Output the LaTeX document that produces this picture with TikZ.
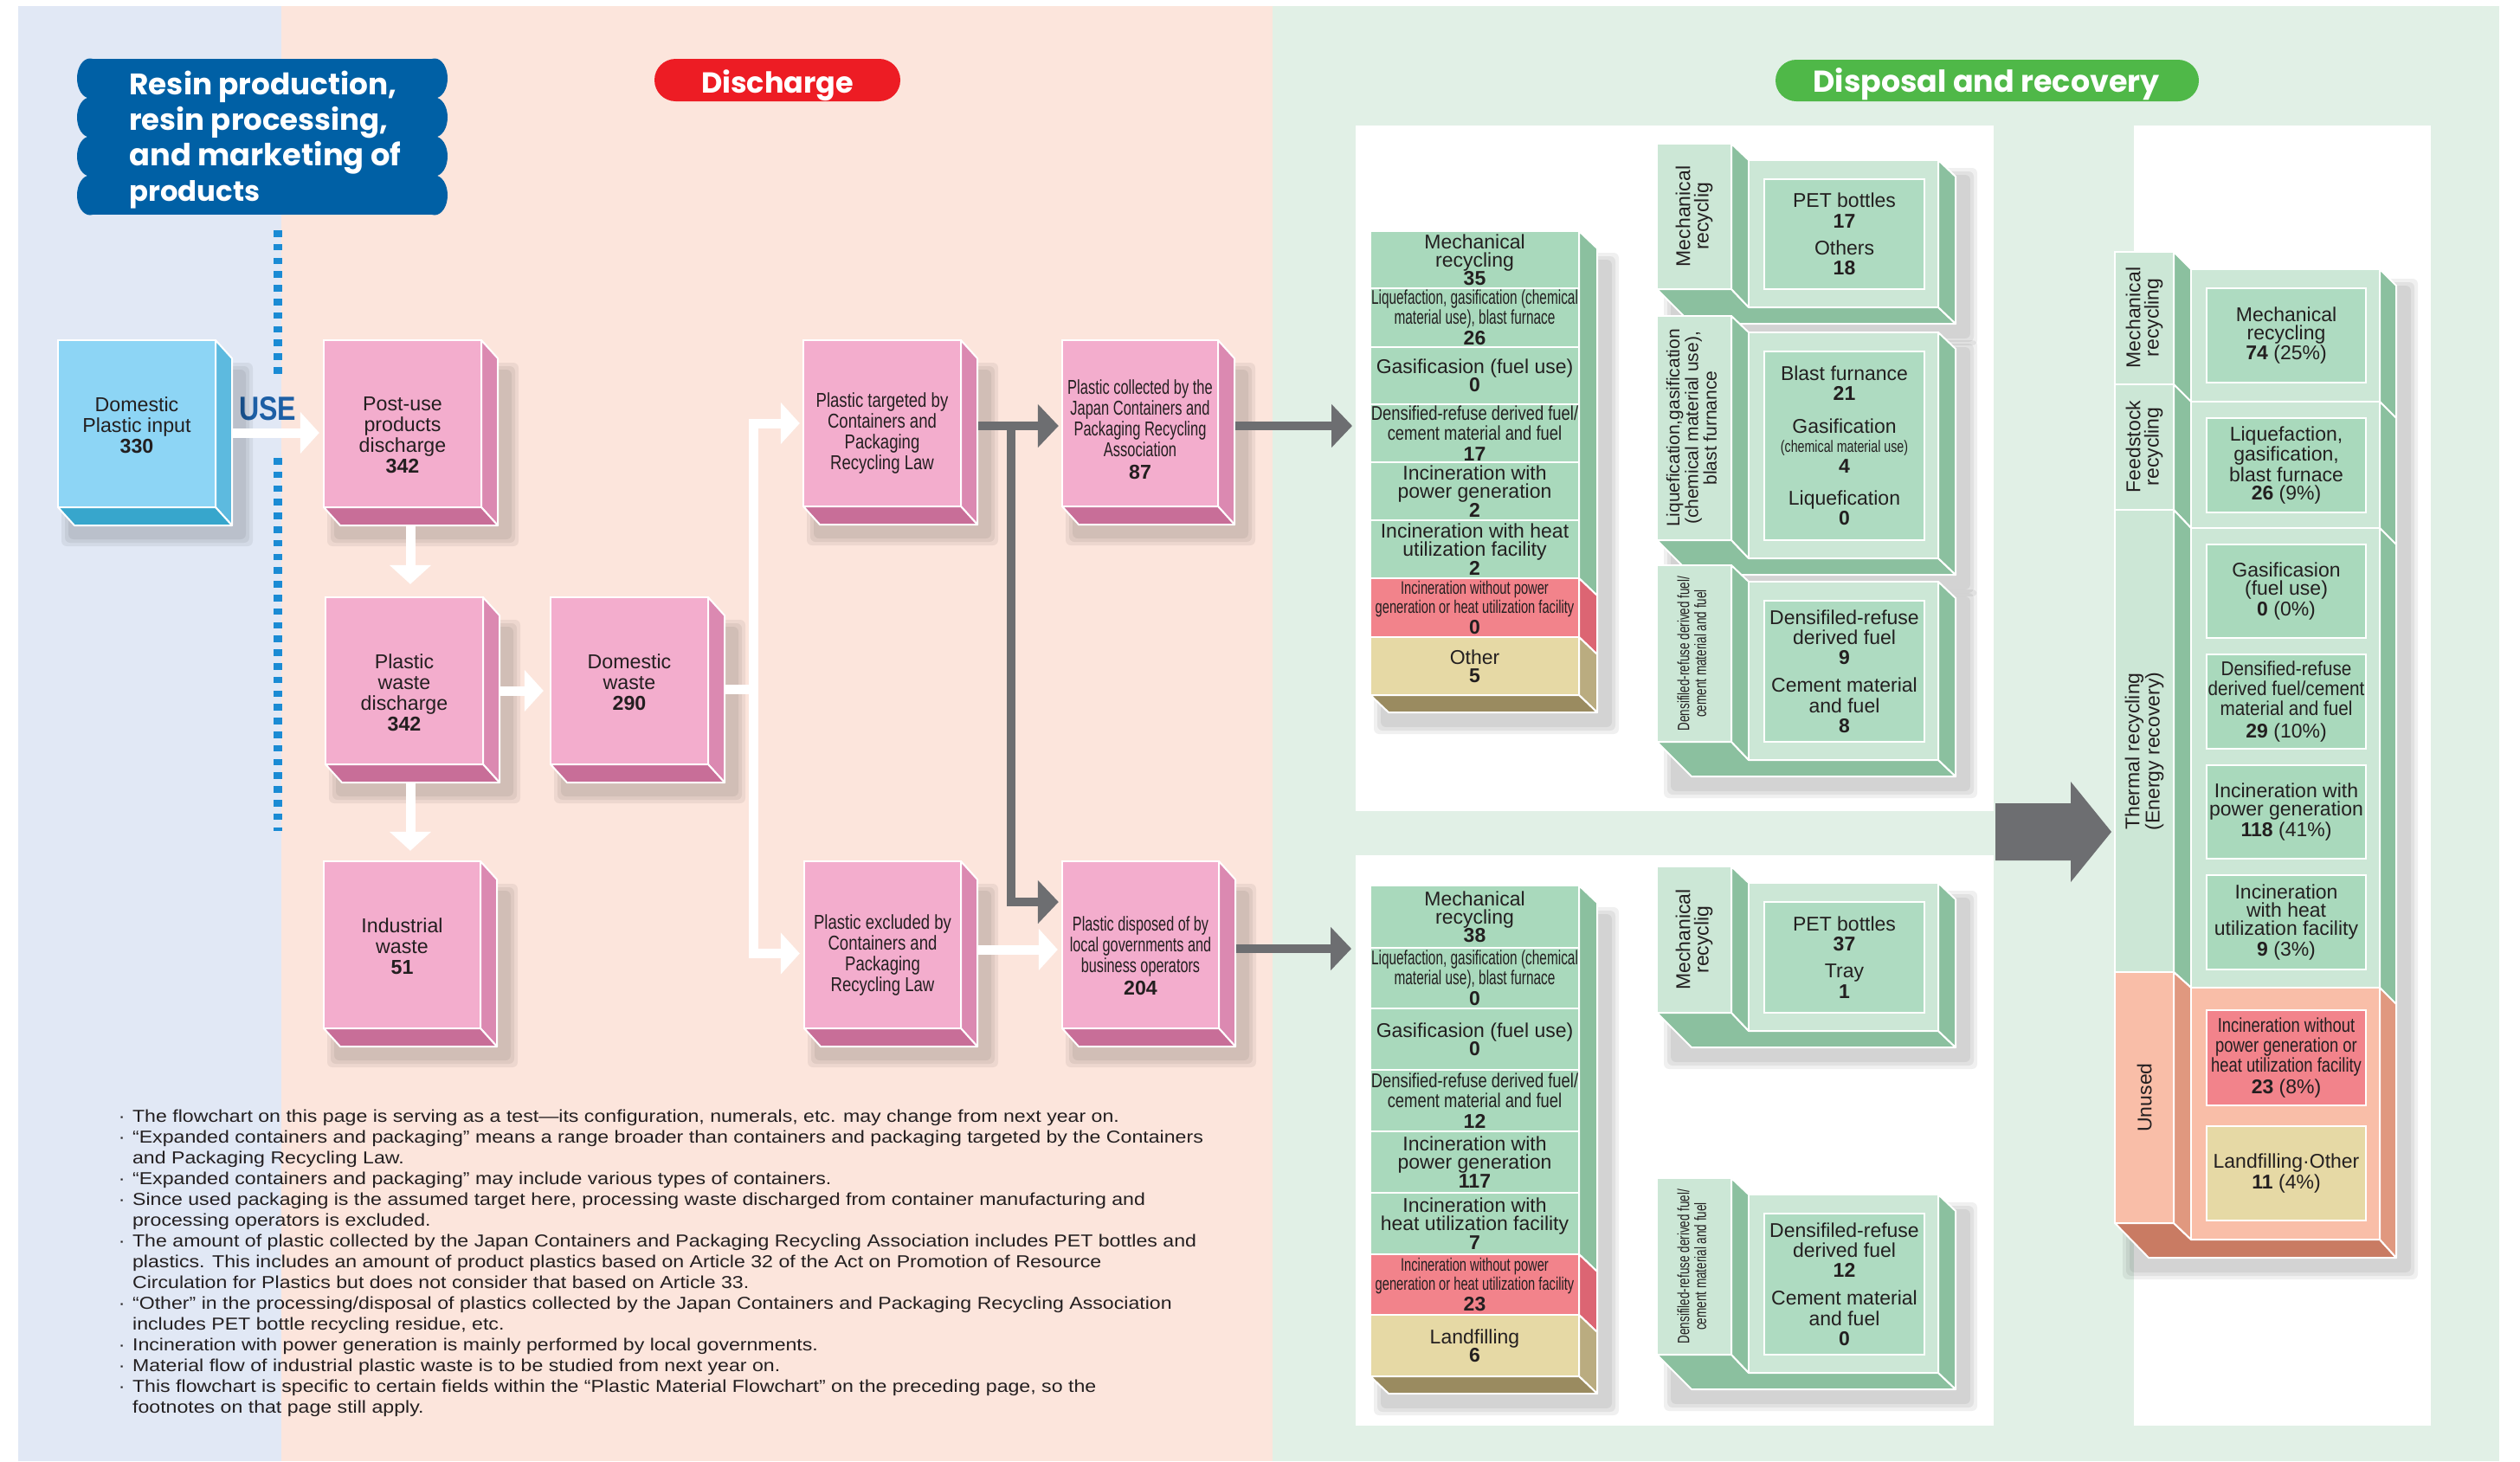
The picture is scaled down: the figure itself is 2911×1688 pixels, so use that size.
\documentclass[tikz,border=0pt]{standalone}
\usepackage{fontspec}
\setmainfont{Liberation Sans}
\newfontfamily\hdrfont{Poppins}
\usepackage{graphicx}
\usetikzlibrary{arrows.meta}
\definecolor{bgb}{HTML}{E1E8F5}
\definecolor{bgp}{HTML}{FCE5DC}
\definecolor{bgg}{HTML}{E1F0E6}
\definecolor{hblue}{HTML}{0060A5}
\definecolor{hred}{HTML}{ED1C24}
\definecolor{hgreen}{HTML}{4FB848}
\definecolor{usec}{HTML}{1D5FA5}
\definecolor{dotc}{HTML}{1A8BD4}
\definecolor{pkf}{HTML}{F3ADCD}
\definecolor{pks}{HTML}{DB89B1}
\definecolor{pkb}{HTML}{C86E98}
\definecolor{blf}{HTML}{8DD5F5}
\definecolor{bls}{HTML}{5DBADF}
\definecolor{blb}{HTML}{37A6CC}
\definecolor{gcell}{HTML}{A9D9BC}
\definecolor{glt}{HTML}{CCE7D6}
\definecolor{gin}{HTML}{AEDBC1}
\definecolor{gsd}{HTML}{8BC09F}
\definecolor{rcell}{HTML}{F2838B}
\definecolor{rsd}{HTML}{DC6573}
\definecolor{tcell}{HTML}{E6D9A5}
\definecolor{tsd}{HTML}{BAAC80}
\definecolor{tbt}{HTML}{9A8B60}
\definecolor{uf}{HTML}{F9BEA8}
\definecolor{us}{HTML}{E0987F}
\definecolor{ub}{HTML}{C97B63}
\definecolor{garr}{HTML}{6D6E71}
\definecolor{txt}{HTML}{231F20}
\newcommand\bxf{\fontsize{11.6}{12}\selectfont}
\newcommand\gf{\fontsize{11.5}{10.6}\selectfont}
\newcommand\gif{\fontsize{11.5}{11.6}\selectfont}
\newcommand\cz[2]{\scalebox{#1}[1]{\begin{tabular}{@{}c@{}}#2\end{tabular}}}
\newcommand\shd[4]{\foreach \sh in {0,4,8}{\fill[black,opacity=0.06,rounded corners=3pt] (#1-\sh,#2-\sh) rectangle (#3+\sh,#4+\sh);}}
\newcommand\tshift{0pt}
\tikzset{
 face/.style={draw=white,line width=1.2pt,inner sep=0pt},
 btxt/.style={inner sep=0pt,align=center,text=txt,font=\bxf},
 cellst/.style={draw=white,line width=1.2pt,inner sep=0pt,align=center,text=txt,font=\gf},
 rtxt/.style={rotate=90,align=center,text=txt,font=\gf,inner sep=0pt},
 warrow/.style={draw=white,line width=5.5pt,-{Triangle[width=23.5pt,length=11pt]}},
 wline/.style={draw=white,line width=5.5pt},
 garrow/.style={draw=garr,line width=5pt,-{Triangle[width=24.5pt,length=12pt]}},
 sidef/.style={draw=white,line width=1pt,line join=round},
}
% 3D box: name, x0,y0,x1,y1, front, side, bottom, text
\newcommand\tdb[9]{%
 \shd{#2+12}{#3+34}{#4+35}{#5+37}%
 \filldraw[sidef,fill=#7] (#4,#3) -- (#4+19,#3+21) -- (#4+19,#5+21) -- (#4,#5) -- cycle;
 \filldraw[sidef,fill=#8] (#2,#5) -- (#4,#5) -- (#4+19,#5+21) -- (#2+19,#5+21) -- cycle;
 \node[face,fill=#6,minimum width={(#4-#2)*0.5pt},minimum height={(#5-#3)*0.5pt}] (#1) at ({(#2+#4)/2},{(#3+#5)/2}) {};
 \node[btxt] (#1x) at ([yshift=\tshift]#1.center) {#9};
}
\newcommand\cell[7]{\node[cellst,fill=#6,minimum width={(#4-#2)*0.5pt},minimum height={(#5-#3)*0.5pt}] (#1) at ({(#2+#4)/2},{(#3+#5)/2}) {#7};}
% L-shaped block: name, ty0, ty1, tab text, inner text
\newcommand\lblock[5]{%
 \shd{1930}{#2+36}{2276}{#3+57}%
 \filldraw[sidef,fill=gsd] (1914,#3) -- (2000,#3) -- (2020,#3+21) -- (2239,#3+21) -- (2259,#3+40) -- (1954,#3+40) -- cycle;
 \filldraw[sidef,fill=gsd] (2000,#2) -- (2020,#2+19) -- (2020,#3+21) -- (2000,#3) -- cycle;
 \filldraw[sidef,fill=gsd] (2239,#2+19) -- (2259,#2+38) -- (2259,#3+40) -- (2239,#3+21) -- cycle;
 \filldraw[fill=glt,draw=white,line width=1.2pt] (2020,#2+19) rectangle (2239,#3+21);
 \node[cellst,fill=glt,minimum width=43pt,minimum height={(#3-#2)*0.5pt}] (#1t) at (1957,{(#2+#3)/2}) {};
 \node[rtxt] (#1l) at (1957,{(#2+#3)/2}) {#4};
 \node[cellst,font=\gif,fill=gin,minimum width=92.5pt,minimum height={(#3-#2-41)*0.5pt}] (#1) at (2130.5,{(#2+41+#3)/2}) {#5};
}
\begin{document}
\begin{tikzpicture}[x=0.5pt,y=-0.5pt]
\useasboundingbox (0,0) rectangle (2911,1688);
\fill[white] (0,0) rectangle (2911,1688);
% panels
\fill[bgb] (21,7) rectangle (325,1688);
\fill[bgp] (325,7) rectangle (1470,1688);
\fill[bgg] (1470,7) rectangle (2887,1688);
\fill[white] (1566,145) rectangle (2303,937);
\fill[white] (1566,988) rectangle (2303,1647);
\fill[white] (2465,145) rectangle (2808,1647);
% headers
\fill[hblue] (104,68) rectangle (502,248);
\foreach \i in {0,...,3}{\fill[hblue] (104,{90.5+45*\i}) ellipse [x radius=7.5pt,y radius=11.5pt];
 \fill[hblue] (502,{90.5+45*\i}) ellipse [x radius=7.5pt,y radius=11.5pt];}
\node[anchor=base west,inner sep=0,text=white] (h1) at (149,109) {\resizebox{154.5pt}{!}{\hdrfont\bfseries Resin production,}};
\node[anchor=base west,inner sep=0,text=white] (h2) at (149,150) {\resizebox{149.5pt}{!}{\hdrfont\bfseries resin processing,}};
\node[anchor=base west,inner sep=0,text=white] (h3) at (149,191) {\resizebox{157pt}{!}{\hdrfont\bfseries and marketing of}};
\node[anchor=base west,inner sep=0,text=white] (h4) at (149,232) {\resizebox{75.5pt}{!}{\hdrfont\bfseries products}};
\fill[hred,rounded corners=12.2pt] (756,68) rectangle (1040,117);
\node[anchor=base,inner sep=0,text=white] (dist) at (898,107) {\resizebox{88pt}{!}{\hdrfont\bfseries Discharge}};
\fill[hgreen,rounded corners=12pt] (2051,69) rectangle (2540,117);
\node[anchor=base,inner sep=0,text=white] (dspt) at (2294.5,106) {\resizebox{200pt}{!}{\hdrfont\bfseries Disposal and recovery}};
% dotted line
\draw[dotc,line width=5pt,dash pattern=on 3.75pt off 4.15pt] (321,266) -- (321,432);
\draw[dotc,line width=5pt,dash pattern=on 3.75pt off 4.15pt] (321,529) -- (321,960);
\node[anchor=base west,inner sep=0,text=usec] (use) at (276,485) {\resizebox{33pt}{13.5pt}{\bfseries USE}};
% pink boxes
\renewcommand\tshift{-1pt}
\tdb{dpi}{67}{393}{249}{586}{blf}{bls}{blb}{Domestic\\Plastic input\\\textbf{330}}
\renewcommand\tshift{-6.75pt}
\tdb{pud}{374}{393}{556}{586}{pkf}{pks}{pkb}{Post-use\\products\\discharge\\\textbf{342}}
\tdb{pwd}{376}{690}{558}{883}{pkf}{pks}{pkb}{Plastic\\waste\\discharge\\\textbf{342}}
\renewcommand\tshift{-1pt}
\tdb{dw}{636}{690}{818}{883}{pkf}{pks}{pkb}{Domestic\\waste\\\textbf{290}}
\tdb{iw}{374}{995}{555}{1188}{pkf}{pks}{pkb}{Industrial\\waste\\\textbf{51}}
\renewcommand\tshift{-6.5pt}
\tdb{ptc}{928}{393}{1110}{585}{pkf}{pks}{pkb}{\cz{0.8}{Plastic targeted by\\Containers and\\Packaging\\Recycling Law}}
\tdb{pex}{929}{995}{1110}{1188}{pkf}{pks}{pkb}{\cz{0.8}{Plastic excluded by\\Containers and\\Packaging\\Recycling Law}}
\renewcommand\tshift{-3.5pt}
\tdb{pcol}{1227}{393}{1407}{585}{pkf}{pks}{pkb}{\cz{0.71}{Plastic collected by the\\Japan Containers and\\Packaging Recycling\\Association}\\\textbf{87}}
\renewcommand\tshift{-6.25pt}
\tdb{pdo}{1227}{995}{1408}{1188}{pkf}{pks}{pkb}{\cz{0.7}{Plastic disposed of by\\local governments and\\business operators}\\\textbf{204}}
% connectors
\coordinate (br) at (870,796);
\coordinate (gb) at (1168,492);
\coordinate (c1a) at (1562,492);
\coordinate (c1b) at (1561,1096);
\draw[warrow] ([xshift=9.5pt,yshift=-5.25pt]dpi.east) -- ([xshift=-2pt,yshift=-5.25pt]pud.west);
\draw[warrow] ([xshift=4.5pt,yshift=-10.5pt]pud.south) -- ([xshift=3.5pt,yshift=7pt]pwd.north);
\draw[warrow] ([xshift=3.5pt,yshift=-10.5pt]pwd.south) -- ([xshift=4.75pt,yshift=5.5pt]iw.north);
\draw[warrow] ([xshift=9.5pt,yshift=-5.75pt]pwd.east) -- ([xshift=-3.5pt,yshift=-5.75pt]dw.west);
\draw[wline] ([xshift=9.5pt,yshift=-4.75pt]dw.east) -- (br);
\draw[warrow] (br) |- ([xshift=-1.5pt]ptc.west);
\draw[warrow] (br) |- ([xshift=-2pt,yshift=-5pt]pex.west);
\draw[warrow] ([xshift=9.5pt,yshift=-2.75pt]pex.east) -- ([xshift=-2pt,yshift=-2.75pt]pdo.west);
\draw[garrow] (gb) |- ([xshift=-1.5pt,yshift=24.75pt]pdo.west);
\draw[garrow] ([xshift=9.5pt,yshift=-1.5pt]ptc.east) -- ([xshift=-1.5pt,yshift=-1.5pt]pcol.west);
\draw[garrow] ([xshift=9.5pt,yshift=-1.5pt]pcol.east) -- (c1a);
\draw[garrow] ([xshift=9.5pt,yshift=-2.25pt]pdo.east) -- (c1b);
% column 1 top
\shd{1595}{300}{1862}{840}
\filldraw[sidef,fill=gsd] (1824,267) -- (1845,287) -- (1845,688) -- (1824,668) -- cycle;
\filldraw[sidef,fill=rsd] (1824,668) -- (1845,688) -- (1845,756) -- (1824,736) -- cycle;
\filldraw[sidef,fill=tsd] (1824,736) -- (1845,756) -- (1845,823) -- (1824,803) -- cycle;
\filldraw[sidef,fill=tbt] (1583,803) -- (1824,803) -- (1845,823) -- (1604,823) -- cycle;
\cell{a1}{1583}{267}{1824}{333}{gcell}{Mechanical\\recycling\\\textbf{35}}
\cell{a2}{1583}{333}{1824}{401}{gcell}{\cz{0.67}{Liquefaction, gasification (chemical\\material use), blast furnace}\\\textbf{26}}
\cell{a3}{1583}{401}{1824}{467}{gcell}{Gasificasion (fuel use)\\\textbf{0}}
\cell{a4}{1583}{467}{1824}{534}{gcell}{\cz{0.8}{Densified-refuse derived fuel/\\cement material and fuel}\\\textbf{17}}
\cell{a5}{1583}{534}{1824}{601}{gcell}{Incineration with\\power generation\\\textbf{2}}
\cell{a6}{1583}{601}{1824}{668}{gcell}{Incineration with heat\\utilization facility\\\textbf{2}}
\cell{a7}{1583}{668}{1824}{736}{rcell}{{\fontsize{10.5}{9.8}\selectfont\cz{0.7}{Incineration without power\\generation or heat utilization facility}}\\\textbf{0}}
\cell{a8}{1583}{736}{1824}{803}{tcell}{Other\\\textbf{5}}
% column 1 lower
\shd{1595}{1056}{1862}{1627}
\filldraw[sidef,fill=gsd] (1824,1023) -- (1845,1043) -- (1845,1469) -- (1824,1449) -- cycle;
\filldraw[sidef,fill=rsd] (1824,1449) -- (1845,1469) -- (1845,1539) -- (1824,1519) -- cycle;
\filldraw[sidef,fill=tsd] (1824,1519) -- (1845,1539) -- (1845,1610) -- (1824,1590) -- cycle;
\filldraw[sidef,fill=tbt] (1583,1590) -- (1824,1590) -- (1845,1610) -- (1604,1610) -- cycle;
\cell{b1}{1583}{1023}{1824}{1095}{gcell}{Mechanical\\recycling\\\textbf{38}}
\cell{b2}{1583}{1095}{1824}{1165}{gcell}{\cz{0.67}{Liquefaction, gasification (chemical\\material use), blast furnace}\\\textbf{0}}
\cell{b3}{1583}{1165}{1824}{1236}{gcell}{Gasificasion (fuel use)\\\textbf{0}}
\cell{b4}{1583}{1236}{1824}{1307}{gcell}{\cz{0.8}{Densified-refuse derived fuel/\\cement material and fuel}\\\textbf{12}}
\cell{b5}{1583}{1307}{1824}{1378}{gcell}{Incineration with\\power generation\\\textbf{117}}
\cell{b6}{1583}{1378}{1824}{1449}{gcell}{Incineration with\\heat utilization facility\\\textbf{7}}
\cell{b7}{1583}{1449}{1824}{1519}{rcell}{{\fontsize{10.5}{9.8}\selectfont\cz{0.7}{Incineration without power\\generation or heat utilization facility}}\\\textbf{23}}
\cell{b8}{1583}{1519}{1824}{1590}{tcell}{Landfilling\\\textbf{6}}
% column 2
\lblock{A}{166}{334}{Mechanical\\recyclig}{PET bottles\\\textbf{17}\\[4pt]Others\\\textbf{18}}
\lblock{B}{365}{624}{{\fontsize{10.5}{10.2}\selectfont\cz{1}{Liquefication,gasification\\(chemical material use),\\blast furnance}}}{Blast furnance\\\textbf{21}\\[7pt]Gasification\\{\fontsize{9.5}{9.5}\selectfont\cz{0.75}{(chemical material use)}}\\\textbf{4}\\[7pt]Liquefication\\\textbf{0}}
\lblock{C}{653}{857}{{\fontsize{9.5}{9.5}\selectfont\cz{0.71}{Densifiled-refuse derived fuel/\\cement material and fuel}}}{Densifiled-refuse\\derived fuel\\\textbf{9}\\[4.5pt]Cement material\\and fuel\\\textbf{8}}
\lblock{D}{1001}{1170}{Mechanical\\recyclig}{PET bottles\\\textbf{37}\\[4pt]Tray\\\textbf{1}}
\lblock{E}{1361}{1565}{{\fontsize{9.5}{9.5}\selectfont\cz{0.71}{Densifiled-refuse derived fuel/\\cement material and fuel}}}{Densifiled-refuse\\derived fuel\\\textbf{12}\\[4.5pt]Cement material\\and fuel\\\textbf{0}}
% column 3
\shd{2460}{330}{2785}{1470}
\filldraw[sidef,fill=ub] (2443,1413) -- (2511,1413) -- (2531,1432) -- (2749,1432) -- (2768,1453) -- (2482,1453) -- cycle;
\filldraw[sidef,fill=gsd] (2511,291) -- (2531,311) -- (2531,464) -- (2511,444) -- cycle;
\filldraw[sidef,fill=gsd] (2511,444) -- (2531,464) -- (2531,610) -- (2511,589) -- cycle;
\filldraw[sidef,fill=gsd] (2511,589) -- (2531,610) -- (2531,1141) -- (2511,1123) -- cycle;
\filldraw[sidef,fill=us] (2511,1123) -- (2531,1141) -- (2531,1432) -- (2511,1413) -- cycle;
\filldraw[sidef,fill=gsd] (2749,311) -- (2768,330) -- (2768,483) -- (2749,464) -- cycle;
\filldraw[sidef,fill=gsd] (2749,464) -- (2768,483) -- (2768,629) -- (2749,610) -- cycle;
\filldraw[sidef,fill=gsd] (2749,610) -- (2768,629) -- (2768,1160) -- (2749,1141) -- cycle;
\filldraw[sidef,fill=us] (2749,1141) -- (2768,1160) -- (2768,1453) -- (2749,1432) -- cycle;
\filldraw[fill=glt,draw=white,line width=1.2pt] (2531,311) rectangle (2749,464);
\filldraw[fill=glt,draw=white,line width=1.2pt] (2531,464) rectangle (2749,610);
\filldraw[fill=glt,draw=white,line width=1.2pt] (2531,610) rectangle (2749,1141);
\filldraw[fill=uf,draw=white,line width=1.2pt] (2531,1141) rectangle (2749,1432);
\cell{tm}{2443}{291}{2511}{444}{glt}{}
\cell{tf}{2443}{444}{2511}{589}{glt}{}
\cell{tt}{2443}{589}{2511}{1123}{glt}{}
\cell{tu}{2443}{1123}{2511}{1413}{uf}{}
\node[rtxt] (tml) at (2477,367) {Mechanical\\recycling};
\node[rtxt] (tfl) at (2477,516) {Feedstock\\recycling};
\node[rtxt] (ttl) at (2477,868) {Thermal recycling\\(Energy recovery)};
\node[rtxt] (tul) at (2477,1268) {Unused};
\cell{r1}{2549}{333}{2733}{442}{gin}{Mechanical\\recycling\\\textbf{74} (25\%)}
\cell{r2}{2549}{483}{2733}{592}{gcell}{Liquefaction,\\gasification,\\blast furnace\\\textbf{26} (9\%)}
\cell{r3}{2549}{629}{2733}{737}{gcell}{Gasificasion\\(fuel use)\\\textbf{0} (0\%)}
\cell{r4}{2549}{756}{2733}{865}{gcell}{\cz{0.9}{Densified-refuse\\derived fuel/cement\\material and fuel}\\\textbf{29} (10\%)}
\cell{r5}{2549}{884}{2733}{992}{gcell}{Incineration with\\power generation\\\textbf{118} (41\%)}
\cell{r6}{2549}{1011}{2733}{1120}{gcell}{Incineration\\with heat\\utilization facility\\\textbf{9} (3\%)}
\cell{r7}{2549}{1167}{2733}{1277}{rcell}{\cz{0.8}{Incineration without\\power generation or\\heat utilization facility}\\\textbf{23} (8\%)}
\cell{r8}{2549}{1301}{2733}{1410}{tcell}{Landfilling·Other\\\textbf{11} (4\%)}
% big arrow
\fill[garr] (2305,928) -- (2392,928) -- (2392,903) -- (2439,961) -- (2392,1019) -- (2392,994) -- (2305,994) -- cycle;
% footnotes
\node[inner sep=0,text=txt] (notes) at (763.5,1460) {\resizebox*{626.5pt}{180pt}{\fontsize{10}{12}\selectfont\begin{tabular}{@{}l@{}}
\makebox[7pt][l]{·}The flowchart on this page is serving as a test—its configuration, numerals, etc. may change from next year on.\\
\makebox[7pt][l]{·}“Expanded containers and packaging” means a range broader than containers and packaging targeted by the Containers\\
\hspace*{7pt}and Packaging Recycling Law.\\
\makebox[7pt][l]{·}“Expanded containers and packaging” may include various types of containers.\\
\makebox[7pt][l]{·}Since used packaging is the assumed target here, processing waste discharged from container manufacturing and\\
\hspace*{7pt}processing operators is excluded.\\
\makebox[7pt][l]{·}The amount of plastic collected by the Japan Containers and Packaging Recycling Association includes PET bottles and\\
\hspace*{7pt}plastics. This includes an amount of product plastics based on Article 32 of the Act on Promotion of Resource\\
\hspace*{7pt}Circulation for Plastics but does not consider that based on Article 33.\\
\makebox[7pt][l]{·}“Other” in the processing/disposal of plastics collected by the Japan Containers and Packaging Recycling Association\\
\hspace*{7pt}includes PET bottle recycling residue, etc.\\
\makebox[7pt][l]{·}Incineration with power generation is mainly performed by local governments.\\
\makebox[7pt][l]{·}Material flow of industrial plastic waste is to be studied from next year on.\\
\makebox[7pt][l]{·}This flowchart is specific to certain fields within the “Plastic Material Flowchart” on the preceding page, so the\\
\hspace*{7pt}footnotes on that page still apply.
\end{tabular}}};
\end{tikzpicture}
\end{document}
